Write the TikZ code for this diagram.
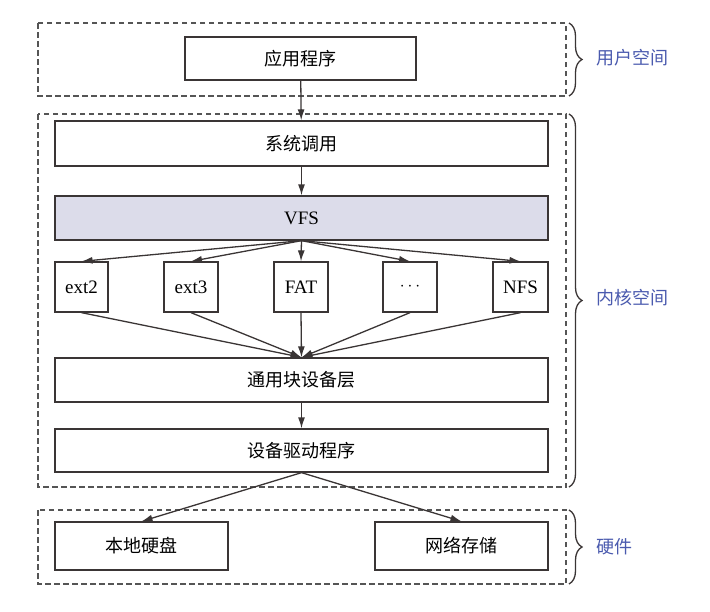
\documentclass[tikz,border=0pt]{standalone}
\usepackage{fontspec}
\setmainfont{Liberation Serif}
\newfontfamily\cjk{Noto Sans CJK SC}
\usetikzlibrary{arrows.meta,decorations.pathreplacing}
\definecolor{linegray}{HTML}{3A3535}
\definecolor{dashgray}{HTML}{555555}
\definecolor{vfsfill}{HTML}{DCDCEA}
\definecolor{lblue}{HTML}{4A5AAE}
\tikzset{
  box/.style={draw=linegray, line width=1.3pt, fill=white, inner sep=0pt, font=\fontsize{19}{19}\selectfont},
  region/.style={draw=dashgray, line width=1.4pt, dash pattern=on 5.5pt off 3.5pt},
  arr/.style={draw=linegray, line width=1.3pt, -{Latex[length=11pt,width=7pt]}},
  brc/.style={draw=linegray, line width=1.3pt, decorate, decoration={brace, amplitude=13pt}},
  blbl/.style={text=lblue, font=\cjk\fontsize{18}{18}\selectfont, anchor=west, inner sep=0pt},
  cj/.style={font=\cjk\fontsize{18}{18}\selectfont},
}
\begin{document}
\begin{tikzpicture}[x=1pt,y=-1pt]
\useasboundingbox (0,0) rectangle (710,611);
% regions
\draw[region] (38,23) rectangle (566,96);
\draw[region] (38,114) rectangle (566,487);
\draw[region] (38,510) rectangle (566,584);
% braces
\draw[brc] (569,23) -- (569,96);
\draw[brc] (569,114) -- (569,487);
\draw[brc] (569,510) -- (569,584);
\node[blbl] (lu) at (596,58) {用户空间};
\node[blbl] (lk) at (596,298) {内核空间};
\node[blbl] (lh) at (596,547) {硬件};
% boxes
\node[box, cj, minimum width=231, minimum height=43] (app) at (300.5,58.5) {应用程序};
\node[box, cj, minimum width=493, minimum height=45] (sys) at (301.5,143.5) {系统调用};
\node[box, fill=vfsfill, minimum width=493, minimum height=44] (vfs) at (301.5,218) {VFS};
\node[box, minimum width=53, minimum height=50] (e2) at (81.5,287) {ext2};
\node[box, minimum width=54, minimum height=50] (e3) at (191,287) {ext3};
\node[box, minimum width=54, minimum height=50] (fat) at (301,287) {FAT};
\node[box, minimum width=54, minimum height=50] (dots) at (410,287) {$\cdots$};
\node[box, minimum width=55, minimum height=50] (nfs) at (520.5,287) {NFS};
\node[box, cj, minimum width=493, minimum height=44] (blk) at (301.5,380) {通用块设备层};
\node[box, cj, minimum width=493, minimum height=43] (drv) at (301.5,450.5) {设备驱动程序};
\node[box, cj, minimum width=173, minimum height=48] (hd) at (141.5,546) {本地硬盘};
\node[box, cj, minimum width=173, minimum height=48] (net) at (461.5,546) {网络存储};
% connectors
\draw[arr] (app) -- (sys);
\draw[arr] (sys) -- (vfs);
\foreach \n in {e2,e3,fat,dots,nfs} {
  \draw[arr] (vfs.south) -- (\n.north);
  \draw[arr] (\n.south) -- (blk.north);
}
\draw[arr] (blk) -- (drv);
\draw[arr] (drv.south) -- (hd.north);
\draw[arr] (drv.south) -- (net.north);
\end{tikzpicture}
\end{document}
